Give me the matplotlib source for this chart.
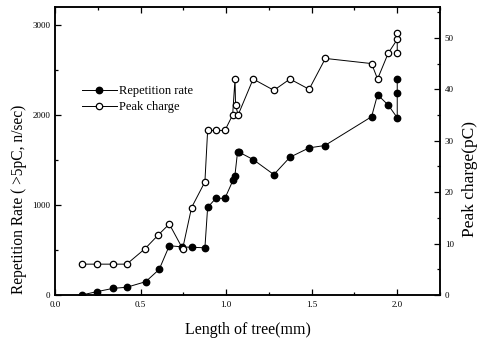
import matplotlib
matplotlib.use("Agg")
import matplotlib.pyplot as plt
from matplotlib.ticker import MultipleLocator

plt.rcParams['font.family'] = ['Liberation Serif', 'DejaVu Serif']

# Repetition rate (left axis, n/sec)
rep_x = [0.156, 0.244, 0.34, 0.419, 0.53, 0.609, 0.668, 0.74, 0.798, 0.876,
         0.892, 0.94, 0.993, 1.041, 1.051, 1.067, 1.077, 1.158, 1.279, 1.373,
         1.485, 1.577, 1.85, 1.885, 1.947, 2.0, 2.0, 2.0]
rep_y = [0, 37, 74, 86, 148, 285, 548, 535, 530, 525,
         974, 1074, 1074, 1278, 1322, 1593, 1586, 1505, 1338, 1531,
         1635, 1661, 1981, 2226, 2111, 1970, 2248, 2405]

# Peak charge (right axis, pC)
pk_x = [0.156, 0.244, 0.34, 0.419, 0.526, 0.604, 0.668, 0.746, 0.798, 0.876,
        0.892, 0.94, 0.993, 1.038, 1.052, 1.055, 1.07, 1.158, 1.279, 1.373,
        1.485, 1.58, 1.85, 1.885, 1.947, 2.0, 2.0, 2.0]
pk_y = [6, 6, 6, 6, 9, 11.7, 13.8, 9, 17, 22,
        32, 32, 32, 35, 42, 37, 35, 42, 39.8, 42,
        40, 46, 45, 42, 47, 49.7, 51, 47]

fig = plt.figure(figsize=(4.8, 3.45), dpi=100)
ax = fig.add_axes([0.1146, 0.1449, 0.8021, 0.8348])
ax2 = ax.twinx()

l1, = ax.plot(rep_x, rep_y, color='black', lw=0.7, marker='o', ms=4.6,
              mfc='black', mec='black', label='Repetition rate', zorder=3)
l2, = ax2.plot(pk_x, pk_y, color='black', lw=0.7, marker='o', ms=4.6,
               mfc='white', mec='black', mew=0.9, label='Peak charge', zorder=3)

ax.set_xlim(0, 2.25)
ax.set_ylim(0, 3200)
ax2.set_ylim(0, 56)

ax.xaxis.set_major_locator(MultipleLocator(0.5))
ax.xaxis.set_minor_locator(MultipleLocator(0.25))
ax.yaxis.set_major_locator(MultipleLocator(1000))
ax.yaxis.set_minor_locator(MultipleLocator(500))
ax2.yaxis.set_major_locator(MultipleLocator(10))
ax2.yaxis.set_minor_locator(MultipleLocator(5))

ax.xaxis.set_major_formatter(matplotlib.ticker.FormatStrFormatter('%.1f'))

ax.tick_params(axis='both', which='both', direction='in', labelsize=6.5, width=0.9)
ax.tick_params(axis='x', which='both', top=True)
ax.tick_params(axis='both', which='major', length=4)
ax.tick_params(axis='both', which='minor', length=2)
ax.tick_params(axis='x', pad=4)
ax2.tick_params(axis='y', which='both', direction='in', labelsize=6.5, width=0.9)
ax2.tick_params(axis='y', which='major', length=4)
ax2.tick_params(axis='y', which='minor', length=2)

for a in (ax, ax2):
    for s in a.spines.values():
        s.set_linewidth(1.1)

ax.set_xlabel('Length of tree(mm)', fontsize=11.5, labelpad=10)
ax.set_ylabel('Repetition Rate ( >5pC, n/sec)', fontsize=11.2)
ax.yaxis.set_label_coords(-0.072, 0.333)
ax2.set_ylabel('Peak charge(pC)', fontsize=12.5)
ax2.yaxis.set_label_coords(1.058, 0.403)

ax.legend([l1, l2], ['Repetition rate', 'Peak charge'], loc='center left',
          bbox_to_anchor=(0.07, 0.68), frameon=False, fontsize=9,
          handlelength=2.8, handletextpad=0.15, borderpad=0, borderaxespad=0,
          labelspacing=0.3)

fig.savefig('out.png', dpi=100)
